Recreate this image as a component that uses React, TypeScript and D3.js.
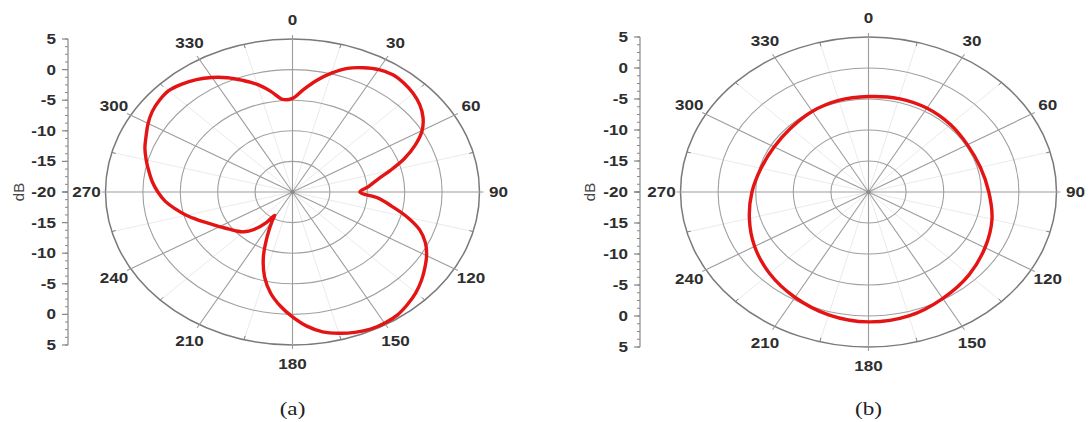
import React from "react";
import * as d3 from "d3";

// ---- data ----
const anglesA = [0,5,10,15,20,25,30,35,40,45,50,55,60,65,70,75,80,85,90,95,100,105,110,115,120,125,130,135,140,145,150,155,160,165,170,175,180,185,190,195,200,205,210,212,215,220,225,230,235,240,245,250,255,260,265,270,275,280,285,290,295,300,305,310,315,320,325,330,335,340,345,350,355];
const valuesA = [-4.7,-3.2,-1.5,0.1,1.5,2.4,3.1,3.4,3.2,2.8,2.2,1.3,0.0,-1.9,-4.1,-6.5,-8.5,-9.8,-11.0,-8.5,-6.5,-4.1,-1.9,-0.4,0.7,1.6,2.5,3.3,3.95,4.5,4.7,4.7,4.4,3.9,3.2,2.0,0.4,-1.3,-3.2,-5.6,-8.6,-12.0,-14.6,-15.5,-13.9,-12.0,-10.8,-10.1,-9.5,-8.7,-7.8,-6.6,-5.3,-4.1,-2.9,-2.0,-1.2,-0.5,0.25,1.0,1.6,2.3,2.9,3.25,3.4,3.0,2.4,1.6,0.6,-0.6,-1.8,-3.3,-4.8];

const anglesB = [0,15,30,45,60,75,90,105,120,135,150,165,180,195,210,225,240,255,270,285,300,315,330,345];
const valuesB = [-4.6,-4.4,-4.4,-4.6,-4.8,-4.6,-4.0,-3.0,-2.1,-1.1,-0.2,0.7,0.95,0.5,-0.4,-1.4,-2.5,-3.6,-4.5,-5.2,-5.5,-5.4,-5.0,-4.7];

const angleTicks = [0,30,60,90,120,150,180,210,240,270,300,330];
const minorAngleTicks = [15,45,75,105,135,165,195,225,255,285,315,345];
const dbTicks = [-20,-15,-10,-5,0,5];
const ringValues = [-15,-10,-5,0,5];
const captions = ["(a)", "(b)"];

const STRETCH = 1.22;
const FONT = "'Liberation Sans', Arial, sans-serif";

type PanelProps = {
  cx: number; cy: number; rx: number; ry: number; axisX: number; dbX: number;
  angles: number[]; values: number[]; caption: string;
};

function Panel({ cx, cy, rx, ry, axisX, dbX, angles, values, caption }: PanelProps) {
  const r = d3.scaleLinear().domain([-20, 5]).range([0, 1]);
  const pt = (deg: number, rn: number): [number, number] => {
    const t = (deg * Math.PI) / 180;
    return [cx + rx * rn * Math.sin(t), cy - ry * rn * Math.cos(t)];
  };
  const pts = angles.map((a, i) => pt(a, r(values[i])));
  const line = d3.line().curve(d3.curveCatmullRomClosed.alpha(0.5));
  const y = d3.scaleLinear().domain([-20, 5]).range([cy, cy - ry]);
  const yb = d3.scaleLinear().domain([-20, 5]).range([cy, cy + ry]);
  const minorDb = d3.range(-20, 5.01, 1.25);
  const labelOff = 19;
  return (
    <g>
      {minorAngleTicks.map((a) => {
        const [x1, y1] = pt(a, 0);
        const [x2, y2] = pt(a, 1);
        return <line key={"ms" + a} x1={x1} y1={y1} x2={x2} y2={y2} stroke="#e4e4e4" strokeWidth={0.8} />;
      })}
      {ringValues.map((v) => (
        <ellipse key={"r" + v} cx={cx} cy={cy} rx={rx * r(v)} ry={ry * r(v)} fill="none"
          stroke={v === 5 ? "#7a7a7a" : "#a0a0a0"} strokeWidth={v === 5 ? 1.5 : 1.1} />
      ))}
      {angleTicks.map((a) => {
        const [x1, y1] = pt(a, 0);
        const [x2, y2] = pt(a, 1);
        const t = (a * Math.PI) / 180;
        return <line key={"s" + a} x1={x1} y1={y1} x2={x2 + 4 * Math.sin(t)} y2={y2 - 4 * Math.cos(t)} stroke="#9c9c9c" strokeWidth={1.1} />;
      })}
      {minorAngleTicks.map((a) => {
        const [x1, y1] = pt(a, 1);
        const t = (a * Math.PI) / 180;
        return <line key={"mt" + a} x1={x1} y1={y1} x2={x1 - 4 * Math.sin(t)} y2={y1 + 4 * Math.cos(t)} stroke="#808080" strokeWidth={1} />;
      })}
      <circle cx={cx} cy={cy} r={2} fill="#888" />
      <path d={line(pts) || ""} fill="none" stroke="#e41414" strokeWidth={3.4} strokeLinejoin="round" />
      {angleTicks.map((a) => {
        const t = (a * Math.PI) / 180;
        const x = cx + (rx + labelOff) * Math.sin(t);
        const yy = cy - (ry + labelOff) * Math.cos(t);
        return (
          <text key={"al" + a} transform={`translate(${x},${yy}) scale(${STRETCH},1)`} textAnchor="middle"
            dominantBaseline="central" fontFamily={FONT} fontWeight="bold" fontSize={14} fill="#2e2e2e">{a}</text>
        );
      })}
      <line x1={axisX} x2={axisX} y1={cy - ry} y2={cy + ry} stroke="#888" strokeWidth={1.2} />
      {minorDb.map((v) => (
        <g key={"md" + v}>
          <line x1={axisX - 3} x2={axisX} y1={y(v)} y2={y(v)} stroke="#888" strokeWidth={1} />
          <line x1={axisX - 3} x2={axisX} y1={yb(v)} y2={yb(v)} stroke="#888" strokeWidth={1} />
        </g>
      ))}
      {dbTicks.map((v) => (
        <g key={"dt" + v}>
          <line x1={axisX - 6} x2={axisX} y1={y(v)} y2={y(v)} stroke="#888" strokeWidth={1.2} />
          <line x1={axisX - 6} x2={axisX} y1={yb(v)} y2={yb(v)} stroke="#888" strokeWidth={1.2} />
          <text transform={`translate(${axisX - 12},${y(v)}) scale(${STRETCH},1)`} textAnchor="end" dominantBaseline="central"
            fontFamily={FONT} fontWeight="bold" fontSize={14} fill="#2e2e2e">{v}</text>
          {v !== -20 && (
            <text transform={`translate(${axisX - 12},${yb(v)}) scale(${STRETCH},1)`} textAnchor="end" dominantBaseline="central"
              fontFamily={FONT} fontWeight="bold" fontSize={14} fill="#2e2e2e">{v}</text>
          )}
        </g>
      ))}
      <text transform={`translate(${dbX},${cy}) rotate(-90)`} textAnchor="middle" dominantBaseline="central"
        fontFamily={FONT} fontSize={15} fill="#444">dB</text>
      <text transform={`translate(${cx},${409}) scale(${STRETCH},1)`} textAnchor="middle" dominantBaseline="central"
        fontFamily="'Liberation Serif', 'Times New Roman', serif" fontSize={19} fill="#222">{caption}</text>
    </g>
  );
}

export default function App() {
  return (
    <svg width={1092} height={422} style={{ position: "absolute", left: 0, top: 0, background: "#fff" }}>
      <rect width={1092} height={422} fill="#fff" />
      <Panel cx={292.5} cy={192} rx={187} ry={153} axisX={68} dbX={18} angles={anglesA} values={valuesA} caption={captions[0]} />
      <Panel cx={868.5} cy={192} rx={188} ry={155} axisX={640} dbX={589} angles={anglesB} values={valuesB} caption={captions[1]} />
    </svg>
  );
}
